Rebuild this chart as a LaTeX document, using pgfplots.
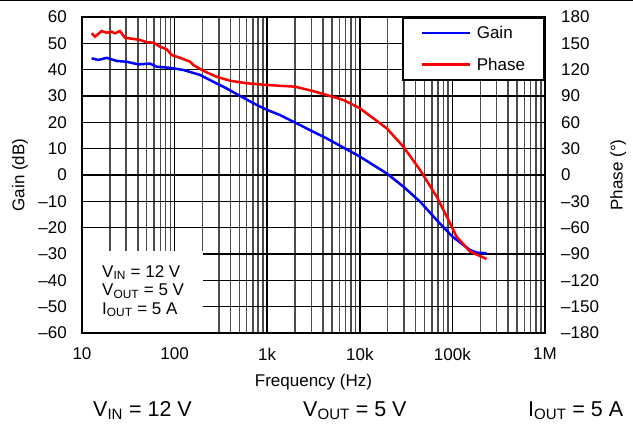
\documentclass[border=0pt]{standalone}
\usepackage{fontspec}
\setmainfont{Liberation Sans}
\usepackage{pgfplots}
\pgfplotsset{compat=1.18}
\begin{document}
\begin{tikzpicture}[x=1pt,y=1pt]
\useasboundingbox (0,0) rectangle (633,424);
\draw[line width=1.2pt] (0,423.4) -- (633,423.4);
\begin{axis}[
  at={(82pt,91pt)}, anchor=south west, scale only axis, width=463pt, height=316pt,
  xmode=log, xmin=10, xmax=1e6,
  major tick length=0pt, minor tick length=0pt,
  axis line style={line width=2.4pt, black},
  tick label style={font=\fontsize{17}{20}\selectfont, inner sep=0pt},
  label style={font=\fontsize{17}{20}\selectfont},
  ymin=-60, ymax=60,
  ytick={-60,-50,...,60},
  yticklabels={\textendash60,\textendash50,\textendash40,\textendash30,\textendash20,\textendash10,0,10,20,30,40,50,60},
  xtick={10,100,1000,10000,100000,1000000},
  xticklabels={10,100,1k,10k,100k,1M},
  yticklabel style={anchor=east, xshift=-15pt},
  xticklabel style={anchor=center, yshift=-21pt},
  grid=both,
  major grid style={black, line width=1.6pt},
  minor grid style={black!70, line width=1.5pt},
  xlabel={Frequency (Hz)},
  ylabel={Gain (dB)},
  xlabel style={at={(axis description cs:0.5,-0.155)}, anchor=center},
  ylabel style={at={(axis description cs:-0.134,0.5)}, anchor=center},
]
\addplot[blue, line width=2.5pt] coordinates {
(12.7,44.3) (15.0,43.7) (18.5,44.5) (23.7,43.3) (30.4,43.0) (40.6,42.0)
(54.2,42.3) (64,41.1) (89,40.7) (124,39.9) (188,38.0) (262,35.4) (363,32.9)
(510,30.0) (770,26.6) (1000,24.7) (1370,22.8) (2000,19.9) (3150,16.4)
(4390,13.9) (10000,7.0) (19500,0.6)
(29500,-4.4) (44700,-10.1) (67600,-17.1) (100000,-23.4) (155000,-28.5)
(185000,-29.5) (234000,-29.7)
};
\fill[white] (rel axis cs:0,0) rectangle (rel axis cs:0.2613,0.2595);
\node[anchor=north west, inner sep=0pt, align=left, font=\fontsize{17}{18.5}\selectfont]
  at (rel axis cs:0.0432,0.2152)
  {V\textsubscript{IN} = 12 V\\V\textsubscript{OUT} = 5 V\\I\textsubscript{OUT} = 5 A};
\end{axis}
\begin{axis}[
  at={(82pt,91pt)}, anchor=south west, scale only axis, width=463pt, height=316pt,
  xmode=log, xmin=10, xmax=1e6,
  major tick length=0pt, minor tick length=0pt,
  axis line style={line width=2.4pt, black},
  tick label style={font=\fontsize{17}{20}\selectfont, inner sep=0pt},
  label style={font=\fontsize{17}{20}\selectfont},
  ymin=-180, ymax=180,
  ytick={-180,-150,...,180},
  yticklabels={\textendash180,\textendash150,\textendash120,\textendash90,\textendash60,\textendash30,0,30,60,90,120,150,180},
  yticklabel pos=right,
  yticklabel style={anchor=west, xshift=16pt},
  xmajorticks=false, xminorticks=false,
  ylabel={Phase (°)},
  ylabel style={at={(axis description cs:1.158,0.5)}, anchor=center},
  legend style={at={(rel axis cs:1,1)}, anchor=north east, draw=black, line width=2pt,
    fill=white, font=\fontsize{17}{20}\selectfont, inner xsep=17pt, inner ysep=6pt,
    row sep=14pt, column sep=4pt, nodes={inner sep=2pt}},
  legend cell align=left,
  legend image code/.code={\draw[#1] (0pt,0pt) -- (48pt,0pt);},
]
\addlegendimage{blue, line width=2.5pt}
\addlegendentry{Gain}
\addplot[red, line width=2.5pt] coordinates {
(12.7,161.4) (13.8,157.6) (16.3,164) (18.5,162.1) (20.9,163.3) (22.7,161.4)
(25.7,164) (29,156.4) (35.8,155) (42.3,153.8) (50,151.2) (58.9,150.8)
(69.6,146.2) (82,143.2) (93,136.7) (114,133.6) (147,129) (159,125.3)
(204,118.8) (282,112) (397,107.4) (600,104.5) (1000,102.5) (2000,100.6)
(3150,95.5) (4390,91.1) (6640,85.5) (10000,76) (19500,53.2) (29500,32.3)
(44700,5.7) (67600,-24.7) (87000,-47.5) (111000,-70.3) (155000,-87.3)
(234000,-95.7)
};
\addlegendentry{Phase}
\end{axis}
\node[anchor=base west, inner sep=0pt, font=\fontsize{21.5}{24}\selectfont] at (93,8) {V\textsubscript{IN} = 12 V};
\node[anchor=base west, inner sep=0pt, font=\fontsize{21.5}{24}\selectfont] at (303,8) {V\textsubscript{OUT} = 5 V};
\node[anchor=base west, inner sep=0pt, font=\fontsize{21.5}{24}\selectfont] at (528,8) {I\textsubscript{OUT} = 5 A};
\end{tikzpicture}
\end{document}
